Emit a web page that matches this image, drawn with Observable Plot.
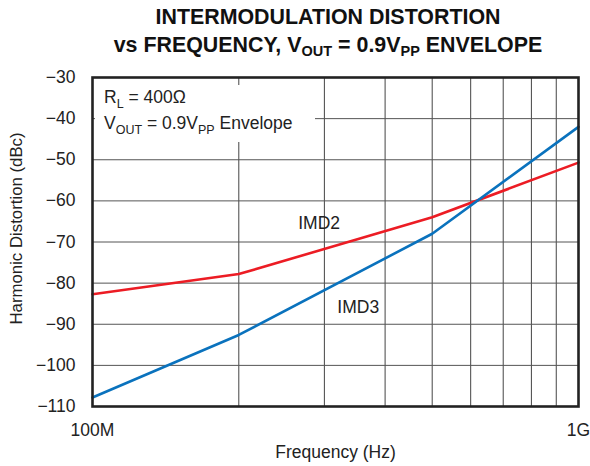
<!DOCTYPE html>
<html>
<head>
<meta charset="utf-8">
<script src="https://cdn.jsdelivr.net/npm/d3@7"></script>
<script src="https://cdn.jsdelivr.net/npm/@observablehq/plot@0.6"></script>
<style>
  html, body { margin: 0; padding: 0; background: #fff; overflow: hidden; }
  #wrap { position: relative; width: 590px; height: 466px; }
  #title { position: absolute; left: 0; top: 3px; width: 656px; text-align: center;
    font-family: "Liberation Sans", Arial, Helvetica, sans-serif; font-weight: bold;
    font-size: 21.4px; line-height: 28px; color: #111; }
  #title .sub { font-size: 14.5px; position: relative; top: 4px; }
</style>
</head>
<body>
<div id="wrap">
  <div id="chart"></div>
  <div id="title">INTERMODULATION DISTORTION<br>vs FREQUENCY, V<span class="sub">OUT</span> = 0.9V<span class="sub">PP</span> ENVELOPE</div>
</div>
<script>
// ---- data ----
const freqHz = [1e8, 2e8, 5e8, 1e9];
const imd2 = [-82.7, -77.8, -64.0, -50.7];
const imd3 = [-107.8, -92.6, -68.0, -42.0];
const seriesNames = ["IMD2", "IMD3"];
const yTicks = [-110, -100, -90, -80, -70, -60, -50, -40, -30];
const xGrid = [2e8, 3e8, 4e8, 5e8, 6e8, 7e8, 8e8, 9e8];
const xTicks = [1e8, 1e9];
const xTickLabels = ["100M", "1G"];

const rows = [];
freqHz.forEach((f, i) => {
  rows.push({series: "IMD2", f, v: imd2[i]});
  rows.push({series: "IMD3", f, v: imd3[i]});
});

const FONT = "Liberation Sans, Arial, Helvetica, sans-serif";
const red = "#ec1c24";
const blue = "#0a72bd";

const plot = Plot.plot({
  width: 590,
  height: 466,
  marginLeft: 92,
  marginRight: 12,
  marginTop: 77,
  marginBottom: 60,
  style: {fontFamily: FONT, fontSize: "17.5px", color: "#222", background: "#fff"},
  x: {type: "log", domain: [1e8, 1e9], axis: null},
  y: {domain: [-110, -30], axis: null},
  marks: [
    Plot.ruleX(xGrid, {stroke: "#444", strokeWidth: 1}),
    Plot.ruleY(yTicks.slice(1, -1), {stroke: "#555", strokeWidth: 1}),
    Plot.line(rows.filter(d => d.series === "IMD2"), {x: "f", y: "v", stroke: red, strokeWidth: 2.6}),
    Plot.line(rows.filter(d => d.series === "IMD3"), {x: "f", y: "v", stroke: blue, strokeWidth: 2.6}),
    Plot.text([seriesNames[0]], {x: 2.65e8, y: -66.9, text: d => d, textAnchor: "start", lineAnchor: "bottom", fontSize: 17.5, fill: "#222"}),
    Plot.text([seriesNames[1]], {x: 3.19e8, y: -87.2, text: d => d, textAnchor: "start", lineAnchor: "bottom", fontSize: 17.5, fill: "#222"}),
    Plot.frame({stroke: "#222", strokeWidth: 2.6}),
    Plot.text(xTicks, {x: d => d, frameAnchor: "bottom", dy: 24, lineAnchor: "middle", text: (d, i) => xTickLabels[i], fontSize: 17.5, fill: "#222"}),
    Plot.text(yTicks, {y: d => d, frameAnchor: "left", dx: -17, textAnchor: "end", text: d => d3.format("d")(d), fontSize: 17.5, fill: "#222"}),
    Plot.text(["Frequency (Hz)"], {frameAnchor: "bottom", dy: 46, lineAnchor: "middle", text: d => d, fontSize: 17.5, fill: "#222"}),
  ]
});
document.getElementById("chart").appendChild(plot);

// annotation box with subscripts
const svg = d3.select(plot);
const xs = plot.scale("x"), ys = plot.scale("y");
const frameLeft = xs.apply(1e8), frameTop = ys.apply(-30);
svg.append("rect").attr("x", frameLeft + 3).attr("y", frameTop + 8).attr("width", 220).attr("height", 57).attr("fill", "#fff");
const t1 = svg.append("text").attr("x", frameLeft + 12).attr("y", frameTop + 26).attr("text-anchor", "start")
  .attr("font-family", FONT).attr("font-size", 17.5).attr("fill", "#222");
t1.append("tspan").text("R");
t1.append("tspan").attr("font-size", 12.5).attr("dy", 5).text("L");
t1.append("tspan").attr("dy", -5).text(" = 400Ω");
const t2 = svg.append("text").attr("x", frameLeft + 12).attr("y", frameTop + 52).attr("text-anchor", "start")
  .attr("font-family", FONT).attr("font-size", 17.5).attr("fill", "#222");
t2.append("tspan").text("V");
t2.append("tspan").attr("font-size", 12.5).attr("dy", 5).text("OUT");
t2.append("tspan").attr("dy", -5).text(" = 0.9V");
t2.append("tspan").attr("font-size", 12.5).attr("dy", 5).text("PP");
t2.append("tspan").attr("dy", -5).text(" Envelope");

// rotated y label
svg.append("text")
  .attr("transform", `translate(18, ${(ys.apply(-30) + ys.apply(-110)) / 2 - 13}) rotate(-90)`)
  .attr("text-anchor", "middle").attr("dominant-baseline", "middle")
  .attr("font-family", FONT).attr("font-size", 16.8).attr("fill", "#222")
  .text("Harmonic Distortion (dBc)");
</script>
</body>
</html>
